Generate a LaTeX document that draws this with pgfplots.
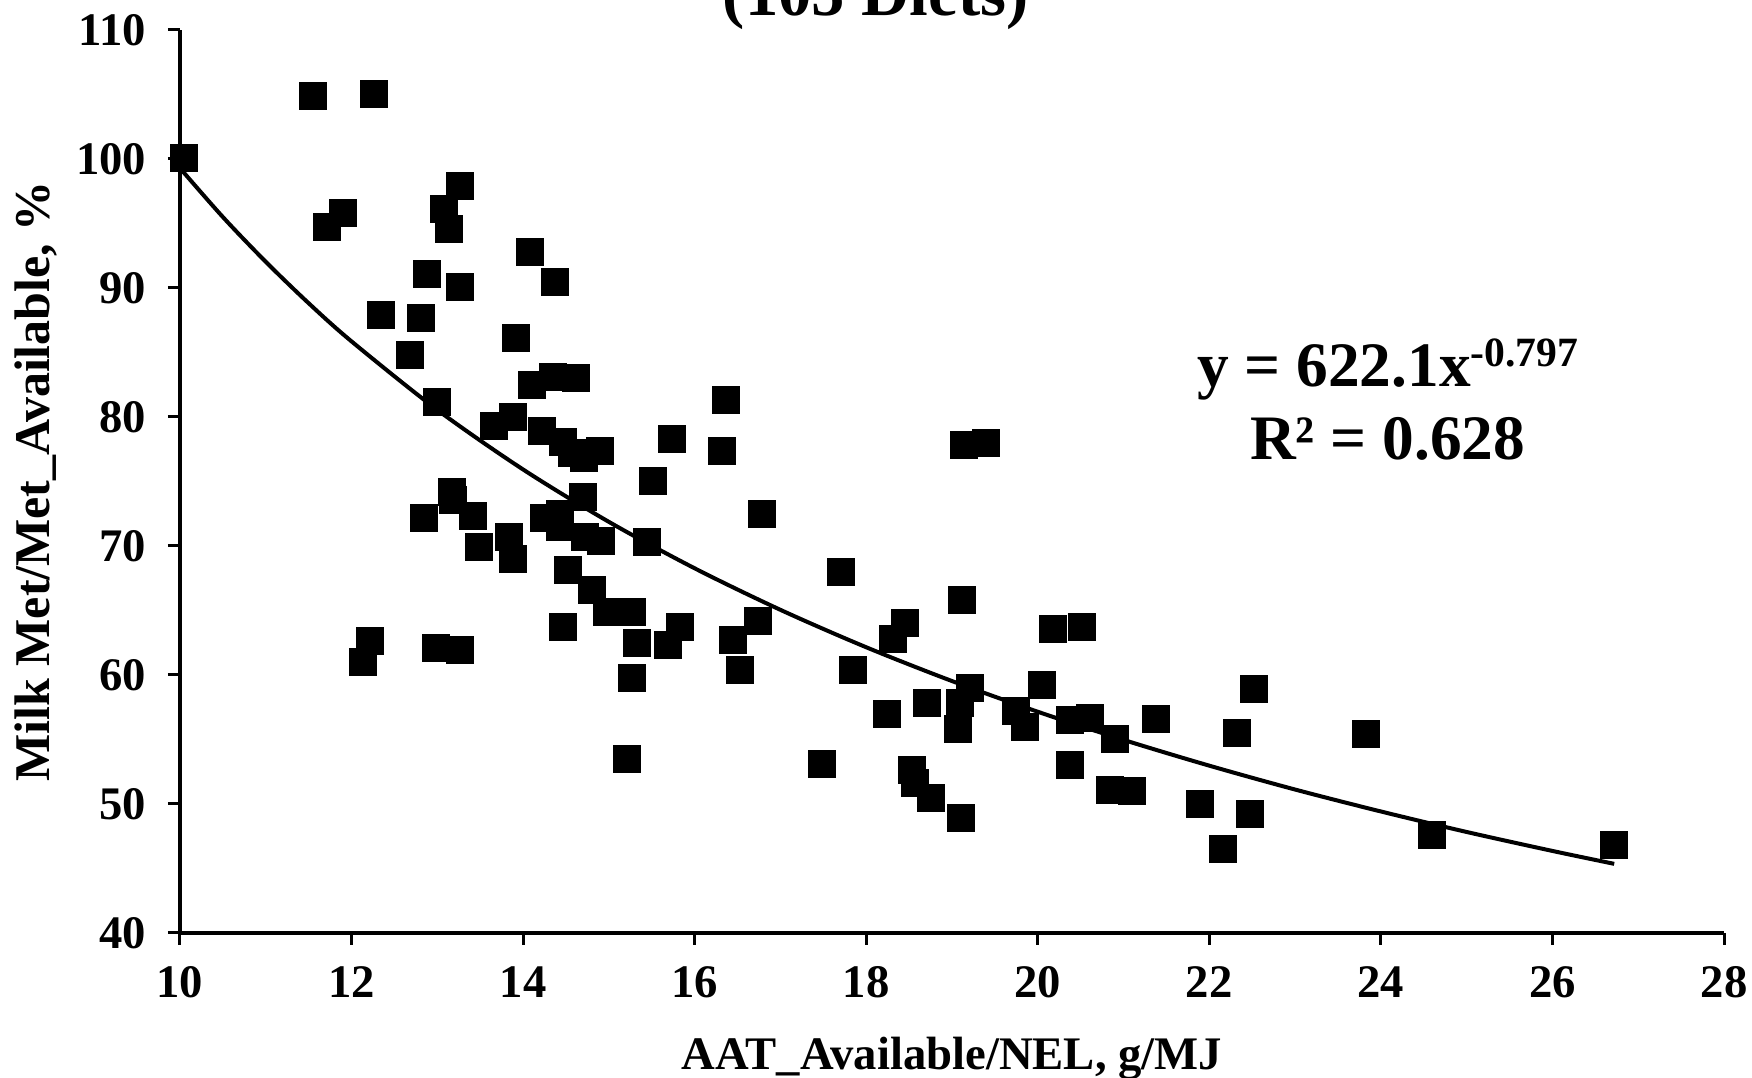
\documentclass[border=0pt]{standalone}
\usepackage{fontspec}
\setmainfont{Liberation Serif}
\usepackage{pgfplots}
\pgfplotsset{compat=1.18}
\usepackage{pgfplotstable}

\pgfplotstableread{
x y
10.05 100.1
11.55 104.9
12.26 105.0
11.71 94.75
11.90 95.8
13.08 96.1
13.27 97.9
13.14 94.6
12.88 91.1
13.26 90.1
12.34 87.9
12.81 87.7
12.68 84.8
13.00 81.2
14.08 92.8
14.37 90.5
13.92 86.1
14.10 82.5
14.35 83.1
14.62 83.0
16.37 81.3
13.66 79.3
13.88 80.0
14.22 78.9
14.47 78.1
14.57 77.2
14.71 76.8
14.90 77.4
15.74 78.3
16.32 77.4
15.51 75.0
16.78 72.5
13.17 74.2
13.18 73.6
12.84 72.2
13.42 72.35
13.48 69.9
13.84 70.7
13.88 69.0
14.70 73.8
14.24 72.2
14.43 72.5
14.43 71.5
14.72 70.7
14.91 70.4
15.45 70.3
14.52 68.1
14.80 66.6
14.98 64.9
15.27 64.9
14.46 63.7
15.33 62.5
15.69 62.3
15.83 63.7
16.74 64.2
16.45 62.7
16.53 60.4
15.27 59.8
12.99 62.1
13.27 61.9
12.21 62.6
12.13 61.0
15.21 53.5
19.14 77.8
19.40 78.0
17.71 68.0
19.12 65.8
18.45 64.0
18.31 62.8
17.85 60.4
18.24 57.0
18.71 57.85
19.21 59.0
19.09 57.8
19.07 55.8
20.05 59.2
19.75 57.2
19.85 56.0
20.38 56.5
20.61 56.7
20.90 55.0
21.38 56.6
17.48 53.1
18.53 52.6
18.57 51.6
18.75 50.5
19.11 48.9
20.37 53.0
20.84 51.1
21.10 51.0
21.89 50.0
20.18 63.6
20.52 63.7
22.47 49.2
22.16 46.5
22.52 58.9
22.32 55.5
23.83 55.4
24.60 47.6
26.72 46.8
}\diets

\pgfplotstableread{
x y
10 99.29
10.5 95.50
11 92.03
11.5 88.82
12 85.86
13 80.55
14 75.93
15 71.87
16 68.27
17 65.05
18 62.15
19 59.53
20 57.15
21 54.97
22 52.97
23 51.12
24 49.42
25 47.83
26 46.36
26.72 45.36
}\trend

\begin{document}
\begin{tikzpicture}
\begin{axis}[
  name=ax,
  scale only axis, width=463.2pt, height=270.9pt,
  xmin=10, xmax=28, ymin=40, ymax=110,
  xtick={10,12,...,28}, ytick={40,50,...,110},
  axis lines=left,
  axis line style={-, line width=1.1pt, black},
  tick align=outside, major tick length=3.6pt,
  tick style={line width=0.9pt, black},
  clip=false,
  /pgf/number format/assume math mode=true,
  tick label style={font=\bfseries\fontsize{14}{16}\selectfont},
  xticklabel style={yshift=-3pt},
  yticklabel style={xshift=-3pt},
  xlabel={AAT\_Available/NEL, g/MJ},
  ylabel={Milk Met/Met\_Available, \%},
  every axis x label/.style={at={(axis description cs:0.5,-0.1517)}, anchor=base,
     font=\bfseries\fontsize{14}{16}\selectfont},
  every axis y label/.style={at={(axis description cs:-0.0842,0.5)}, rotate=90, anchor=base,
     font=\bfseries\fontsize{15}{17}\selectfont},
]
\addplot[only marks, mark=square*, mark size=4pt, mark options={fill=black, draw=black}] table[x=x,y=y]{\diets};
\addplot[black, line width=1.2pt, smooth, no marks] table[x=x,y=y]{\trend};
\node[anchor=base, font=\bfseries\fontsize{19}{22}\selectfont] at (axis cs:24.08,82.33)
  {y = 622.1x\raisebox{6pt}{\fontsize{12.5}{14}\selectfont -0.797}};
\node[anchor=base, font=\bfseries\fontsize{19}{22}\selectfont] at (axis cs:24.08,76.67)
  {R² = 0.628};
\node[anchor=base, font=\bfseries\fontsize{20}{24}\selectfont] at (axis cs:18.11,111.16)
  {(105 Diets)};
\end{axis}
\pgfresetboundingbox
\useasboundingbox (ax.south west) ++(-54pt,-43.5pt) rectangle ++(525.6pt,323.4pt);
\end{tikzpicture}
\end{document}
